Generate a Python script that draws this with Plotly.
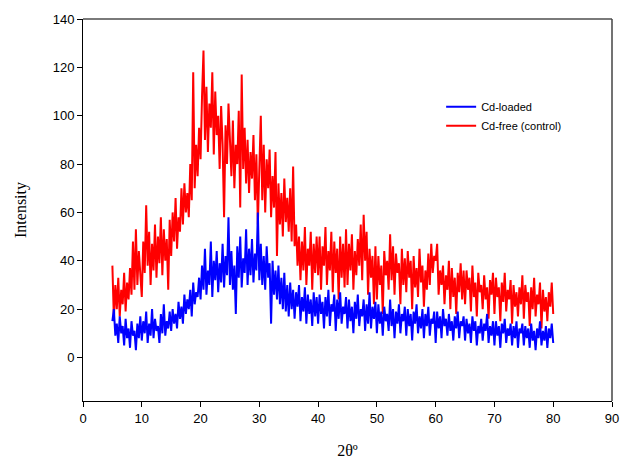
import numpy as np
import plotly.graph_objects as go

# 2-theta grid (degrees), step 0.25 from 5 to 80
two_theta = np.round(np.arange(5.0, 80.0001, 0.25), 2)

cd_loaded = [
    15, 20, 9, 14, 6, 17, 10, 13, 5, 16, 8, 12, 4, 15, 9, 11, 3, 14, 8, 17,
    7, 15, 10, 19, 6, 14, 9, 20, 8, 16, 11, 13, 6, 18, 10, 22, 9, 15, 12, 19,
    11, 20, 14, 18, 12, 23, 16, 21, 14, 26, 18, 24, 20, 28, 17, 31, 22, 27, 25, 33,
    24, 38, 28, 45, 26, 36, 30, 48, 25, 40, 32, 44, 27, 39, 31, 47, 29, 42, 34, 58,
    30, 44, 28, 38, 18, 46, 33, 50, 29, 41, 35, 53, 30, 45, 34, 49, 31, 43, 36, 60,
    32, 47, 30, 42, 28, 46, 33, 39, 14, 40, 26, 36, 24, 38, 22, 33, 20, 35, 19, 30,
    17, 31, 20, 28, 16, 27, 21, 30, 15, 25, 19, 29, 14, 26, 18, 24, 13, 27, 17, 25,
    14, 26, 18, 23, 12, 25, 17, 28, 13, 22, 19, 26, 11, 24, 16, 27, 14, 21, 18, 25,
    12, 24, 15, 21, 10, 23, 16, 26, 13, 20, 17, 24, 11, 22, 14, 27, 12, 21, 16, 23,
    10, 22, 14, 19, 9, 21, 15, 18, 11, 24, 13, 20, 8, 19, 14, 22, 10, 18, 15, 21,
    9, 20, 13, 18, 7, 19, 14, 22, 10, 17, 12, 20, 8, 18, 13, 21, 9, 16, 14, 19,
    6, 19, 12, 17, 8, 20, 13, 16, 9, 18, 11, 15, 7, 17, 12, 19, 8, 15, 13, 17,
    7, 16, 10, 14, 6, 17, 11, 15, 5, 13, 10, 16, 7, 14, 11, 18, 6, 13, 9, 15,
    5, 15, 9, 13, 4, 14, 10, 16, 6, 12, 9, 14, 5, 13, 8, 15, 4, 12, 10, 14,
    5, 13, 8, 12, 4, 14, 7, 11, 3, 12, 8, 15, 5, 11, 7, 13, 4, 12, 8, 14,
    6,
]

cd_free = [
    38, 16, 30, 20, 33, 17, 28, 22, 35, 19, 31, 24, 37, 26, 48, 28, 53, 30, 44, 33,
    25, 48, 35, 63, 38, 52, 30, 47, 36, 55, 33, 50, 39, 58, 34, 53, 40, 49, 28, 57,
    42, 60, 48, 66, 45, 58, 52, 70, 55, 72, 60, 68, 58, 80, 65, 118, 70, 88, 75, 95,
    82, 108, 127, 90, 112, 85, 105, 95, 118, 84, 110, 92, 100, 78, 104, 88, 58, 96, 80, 105,
    90, 75, 98, 70, 88, 80, 102, 62, 117, 78, 95, 72, 90, 68, 85, 74, 92, 65, 84, 55,
    78, 100, 65, 88, 60, 82, 70, 86, 58, 75, 62, 85, 42, 72, 55, 68, 50, 74, 56, 66,
    52, 70, 48, 79, 46, 55, 38, 50, 32, 48, 36, 54, 30, 45, 38, 52, 28, 47, 35, 50,
    34, 50, 28, 46, 38, 54, 30, 44, 36, 52, 27, 48, 35, 45, 24, 50, 33, 47, 29, 53,
    30, 47, 36, 51, 28, 44, 34, 49, 38, 55, 32, 59, 40, 52, 26, 45, 33, 42, 22, 46,
    24, 42, 30, 38, 18, 44, 34, 40, 28, 51, 32, 46, 26, 43, 35, 39, 22, 45, 30, 41,
    27, 44, 33, 40, 20, 42, 29, 37, 25, 45, 31, 38, 21, 36, 28, 43, 30, 47, 35, 42,
    40, 47, 26, 36, 30, 38, 22, 34, 28, 40, 20, 37, 25, 33, 18, 35, 27, 39, 24, 36,
    22, 36, 28, 33, 19, 38, 25, 31, 17, 35, 27, 30, 20, 34, 24, 29, 16, 32, 26, 35,
    18, 33, 25, 29, 15, 31, 23, 35, 19, 28, 24, 32, 14, 30, 21, 27, 17, 29, 22, 34,
    16, 30, 23, 27, 13, 29, 20, 33, 17, 26, 22, 31, 12, 28, 19, 25, 15, 27, 21, 31,
    18,
]

x_ticks = list(range(0, 91, 10))
y_ticks = list(range(0, 141, 20))

fig = go.Figure()
fig.add_trace(go.Scatter(x=two_theta, y=cd_free, mode="lines", name="Cd-free (control)",
                         line=dict(color="#ff0000", width=2), legendrank=2))
fig.add_trace(go.Scatter(x=two_theta, y=cd_loaded, mode="lines", name="Cd-loaded",
                         line=dict(color="#0000ff", width=2), legendrank=1))

fig.update_layout(
    width=624, height=459,
    margin=dict(l=83, r=12, t=19, b=58),
    plot_bgcolor="white", paper_bgcolor="white",
    font=dict(family="Liberation Sans, Arial, sans-serif", size=13, color="black"),
    legend=dict(x=0.677, y=0.808, xanchor="left", yanchor="top",
                font=dict(family="Liberation Sans, Arial, sans-serif", size=11),
                bgcolor="rgba(0,0,0,0)", borderwidth=0, tracegroupgap=0),
    xaxis=dict(range=[0, 90], tickvals=x_ticks, ticks="outside", ticklen=5,
               tickcolor="black", showline=True, linecolor="black", linewidth=1,
               showgrid=False, zeroline=False, automargin=False,
               title=dict(text="2θº", font=dict(family="Liberation Serif, Times New Roman, serif", size=16),
                          standoff=20)),
    yaxis=dict(range=[-18, 140], tickvals=y_ticks, ticks="outside", ticklen=5,
               tickcolor="black", showline=True, linecolor="black", linewidth=1,
               showgrid=False, zeroline=False, automargin=False,
               title=dict(text="Intensity", font=dict(family="Liberation Serif, Times New Roman, serif", size=16),
                          standoff=22)),
)

fig.add_shape(type="line", xref="paper", yref="paper", x0=0, x1=1, y0=1, y1=1,
              line=dict(color="#7a7a7a", width=2))
fig.add_shape(type="line", xref="paper", yref="paper", x0=1, x1=1, y0=0, y1=1,
              line=dict(color="#444444", width=1.5))

fig.write_html("out.html")
